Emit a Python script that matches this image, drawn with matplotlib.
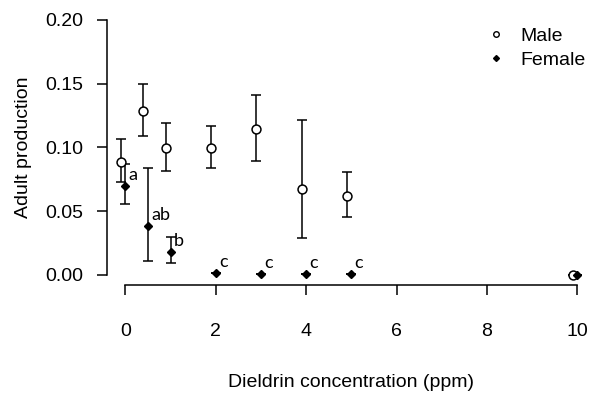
import matplotlib
matplotlib.use("Agg")
import matplotlib.pyplot as plt
from matplotlib.lines import Line2D

plt.rcParams['font.family'] = ['Liberation Sans', 'DejaVu Sans']

conc = [0, 0.5, 1, 2, 3, 4, 5, 10]
male = [0.0888, 0.1288, 0.0993, 0.0993, 0.1142, 0.0671, 0.0620, 0.0]
male_lo = [0.0727, 0.1090, 0.0812, 0.0840, 0.0893, 0.0290, 0.0450, 0.0]
male_hi = [0.1066, 0.1498, 0.1194, 0.1166, 0.1410, 0.1215, 0.0810, 0.0]
female = [0.0699, 0.0383, 0.0180, 0.0016, 0.0005, 0.0005, 0.0010, 0.0]
female_lo = [0.0558, 0.0110, 0.0090, 0.0016, 0.0005, 0.0005, 0.0010, 0.0]
female_hi = [0.0867, 0.0840, 0.0296, 0.0016, 0.0005, 0.0005, 0.0010, 0.0]
letters = ['a', 'ab', 'b', 'c', 'c', 'c', 'c', '']

xticks = [0, 2, 4, 6, 8, 10]
yticks = [0.00, 0.05, 0.10, 0.15, 0.20]

fig = plt.figure(figsize=(6.0, 4.04), dpi=100)
ax = fig.add_axes([0.1787, 0.2946, 0.8137, 0.6812])

mx = [c - 0.1 for c in conc]
ax.errorbar(mx, male,
            yerr=[[m - l for m, l in zip(male, male_lo)], [h - m for m, h in zip(male, male_hi)]],
            fmt='o', mfc='white', mec='black', mew=1.1, ms=6.4, color='black',
            ecolor='black', elinewidth=1.1, capsize=3.4, capthick=1.1, zorder=3)
ax.errorbar(conc, female,
            yerr=[[f - l for f, l in zip(female, female_lo)], [h - f for f, h in zip(female, female_hi)]],
            fmt='D', mfc='black', mec='black', ms=3.9, color='black',
            ecolor='black', elinewidth=1.1, capsize=3.4, capthick=1.1, zorder=3)

for c, f, t in zip(conc, female, letters):
    if t:
        ax.text(c + 0.07, f + 0.0045, t, ha='left', va='baseline',
                fontsize=13, family=['Lato', 'DejaVu Sans'])

ax.set_xlim(-0.4, 10.4)
ax.set_ylim(-0.008, 0.208)
ax.set_xticks(xticks)
ax.set_yticks(yticks)
ax.set_yticklabels([f"{v:.2f}" for v in yticks])
ax.spines['top'].set_visible(False)
ax.spines['right'].set_visible(False)
ax.spines['left'].set_bounds(0, 0.2)
ax.spines['bottom'].set_bounds(0, 10)
for s in ['left', 'bottom']:
    ax.spines[s].set_linewidth(1.1)
ax.tick_params(axis='both', direction='out', length=7.5, width=1.1, labelsize=14)
ax.tick_params(axis='x', pad=20)
ax.tick_params(axis='y', pad=10)

ax.set_xlabel('Dieldrin concentration (ppm)', fontsize=14, labelpad=24)
ax.set_ylabel('Adult production', fontsize=14, labelpad=9)

handles = [Line2D([], [], ls='none', marker='o', mfc='white', mec='black', mew=1.0, ms=4),
           Line2D([], [], ls='none', marker='D', mfc='black', mec='black', ms=3)]
ax.legend(handles, ['Male', 'Female'], loc='upper right', bbox_to_anchor=(1.004, 0.98),
          frameon=False, fontsize=14, handlelength=1.0, handletextpad=0.75,
          labelspacing=0.35, borderaxespad=0.2)

fig.savefig('out.png', dpi=100)
